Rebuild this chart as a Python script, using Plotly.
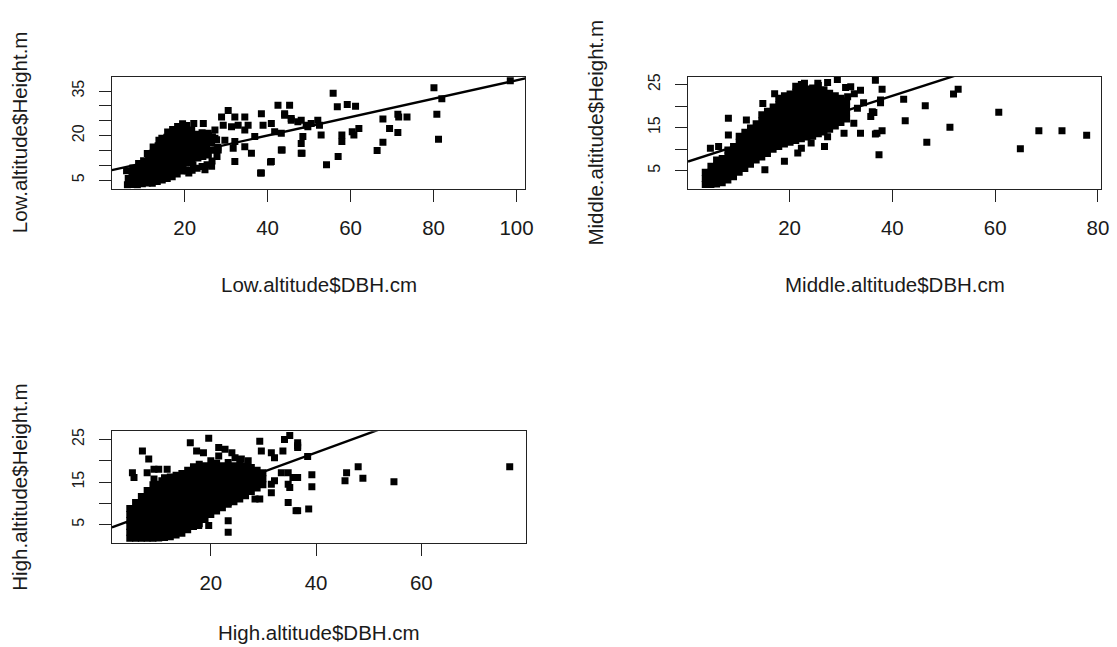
import plotly.graph_objects as go

# ---------------- data ----------------
low_obs = [
    (6.2,3.5),(6.4,5.6),(6.0,8.2),
    (7.4,3.6),(7.6,5.4),(7.3,7.5),(7.5,9.1),
    (8.6,3.5),(8.8,5.2),(8.5,7.1),(8.7,9.0),(8.9,10.6),
    (9.8,3.8),(10.0,5.9),(9.7,7.8),(9.9,9.8),(10.1,11.6),
    (11.0,4.1),(11.2,6.0),(10.9,8.1),(11.1,10.0),(11.3,12.1),(11.0,14.0),
    (12.2,4.0),(12.4,6.1),(12.1,8.0),(12.3,10.2),(12.5,12.0),(12.2,14.1),(12.4,16.2),
    (13.4,4.6),(13.6,6.5),(13.3,8.6),(13.5,10.5),(13.7,12.6),(13.4,14.5),(13.6,16.6),(13.8,18.5),
    (14.6,5.1),(14.8,7.0),(14.5,9.1),(14.7,11.0),(14.9,13.1),(14.6,15.0),(14.8,17.1),(14.5,19.1),
    (15.8,5.6),(16.0,7.5),(15.7,9.6),(15.9,11.5),(16.1,13.6),(15.8,15.5),(16.0,17.6),(15.7,19.5),(15.9,21.2),
    (17.0,6.2),(17.2,8.0),(16.9,10.1),(17.1,12.0),(17.3,14.1),(17.0,16.0),(17.2,18.1),(16.9,20.0),(17.1,22.1),
    (18.2,7.1),(18.4,9.0),(18.1,11.1),(18.3,13.0),(18.5,15.1),(18.2,17.0),(18.4,19.1),(18.1,21.0),(18.3,23.1),
    (19.4,8.1),(19.6,10.0),(19.3,12.1),(19.5,14.0),(19.7,16.1),(19.4,18.0),(19.6,20.1),(19.3,22.0),(19.5,24.0),
    (20.6,8.2),(20.8,11.0),(20.5,13.1),(20.7,15.0),(20.9,17.1),(20.6,19.0),(20.8,21.1),(20.5,23.4),
    (21.8,8.4),(22.0,10.2),(21.7,12.1),(21.9,14.0),(22.1,16.1),(21.8,18.0),(22.0,20.1),(21.7,21.9),
    (23.0,9.0),(23.2,12.5),(22.9,14.6),(23.1,16.5),(23.3,18.6),(23.0,20.5),
    (24.2,9.6),(24.4,13.0),(24.1,15.1),(24.3,17.0),(24.5,19.1),(24.2,21.0),
    (25.4,10.2),(25.6,14.0),(25.3,16.1),(25.5,18.0),(25.7,20.1),
    (26.6,11.5),(26.8,15.1),(26.5,17.5),(26.7,19.6),
    (27.8,13.0),(28.0,16.1),(27.7,18.6),
    (22.2,24.1),(24.5,24.1),(25.7,20.8),(27.3,21.9),(28.9,26.3),(30.5,28.5),(32.1,26.3),
    (29.3,23.5),(31.3,23.0),(32.9,23.5),(34.5,26.3),(35.3,23.5),(34.5,21.9),(38.5,27.4),
    (38.9,23.5),(40.9,24.1),(42.5,30.2),(45.3,30.2),(44.1,26.9),(45.7,25.2),(48.1,25.2),
    (49.7,23.0),(36.9,19.7),(36.1,14.1),(32.1,11.3),(31.7,15.8),(34.5,16.3),(40.9,11.3),
    (38.5,7.4),(43.3,15.2),(48.1,17.4),(48.1,14.1),(41.7,21.3),(43.3,20.8),(29.7,18.5),
    (32.1,18.0),(28.1,15.2),(25.7,13.5),(26.5,9.7),(24.9,8.5),(21.0,7.4),(20.2,8.5),
    (23.3,15.2),(25.0,17.4),(27.3,19.1),
    (55.8,34.3),(80.1,36.1),(98.5,38.5),(82.0,32.4),(80.8,27.2),(81.2,18.8),(56.8,29.7),
    (59.2,30.5),(61.2,29.9),(47.3,24.7),(49.3,23.5),(50.5,24.1),(67.8,25.6),(71.4,27.2),
    (71.6,26.3),(73.6,26.3),(69.4,22.4),(71.4,21.1),(67.8,17.8),(66.4,15.0),(60.4,21.3),
    (62.0,22.4),(60.8,20.2),(57.9,20.2),(57.9,18.0),(57.0,13.0),(54.2,10.2),(52.5,23.5),
    (52.9,20.2),(52.1,25.2),(48.5,19.7),(48.3,14.1),(43.5,15.2),(40.7,11.1),(38.3,7.4),
    (44.1,27.4),(45.7,25.8),
]

mid_obs = [
    (3.6,1.8),(3.6,3.2),(3.6,4.6),
    (4.7,1.8),(4.7,3.2),(4.7,4.6),(4.7,6.0),
    (5.8,1.9),(5.8,3.3),(5.8,4.7),(5.8,6.1),(5.8,7.5),
    (6.9,2.2),(6.9,3.6),(6.9,5.0),(6.9,6.4),(6.9,7.8),
    (8.0,2.8),(8.0,4.2),(8.0,5.6),(8.0,7.0),(8.0,8.4),(8.0,9.8),
    (9.1,3.6),(9.1,5.0),(9.1,6.4),(9.1,7.8),(9.1,9.2),(9.1,10.6),
    (10.2,4.6),(10.2,6.0),(10.2,7.4),(10.2,8.8),(10.2,10.2),(10.2,11.6),(10.2,13.0),
    (11.3,5.5),(11.3,6.9),(11.3,8.3),(11.3,9.7),(11.3,11.1),(11.3,12.5),(11.3,13.9),
    (12.4,6.5),(12.4,7.9),(12.4,9.3),(12.4,10.7),(12.4,12.1),(12.4,13.5),(12.4,14.9),
    (13.5,7.5),(13.5,8.9),(13.5,10.3),(13.5,11.7),(13.5,13.1),(13.5,14.5),(13.5,15.9),
    (14.6,8.2),(14.6,9.6),(14.6,11.0),(14.6,12.4),(14.6,13.8),(14.6,15.2),(14.6,16.6),(14.6,18.0),
    (15.7,9.0),(15.7,10.4),(15.7,11.8),(15.7,13.2),(15.7,14.6),(15.7,16.0),(15.7,17.4),(15.7,18.8),
    (16.8,10.0),(16.8,11.4),(16.8,12.8),(16.8,14.2),(16.8,15.6),(16.8,17.0),(16.8,18.4),(16.8,19.8),
    (17.9,10.6),(17.9,12.0),(17.9,13.4),(17.9,14.8),(17.9,16.2),(17.9,17.6),(17.9,19.0),(17.9,20.4),(17.9,21.8),
    (19.0,11.2),(19.0,12.6),(19.0,14.0),(19.0,15.4),(19.0,16.8),(19.0,18.2),(19.0,19.6),(19.0,21.0),(19.0,22.4),
    (20.1,11.6),(20.1,13.0),(20.1,14.4),(20.1,15.8),(20.1,17.2),(20.1,18.6),(20.1,20.0),(20.1,21.4),(20.1,22.8),
    (21.2,12.0),(21.2,13.4),(21.2,14.8),(21.2,16.2),(21.2,17.6),(21.2,19.0),(21.2,20.4),(21.2,21.8),(21.2,23.2),(21.2,24.6),
    (22.3,12.4),(22.3,13.8),(22.3,15.2),(22.3,16.6),(22.3,18.0),(22.3,19.4),(22.3,20.8),(22.3,22.2),(22.3,23.6),(22.3,25.0),
    (23.4,12.8),(23.4,14.2),(23.4,15.6),(23.4,17.0),(23.4,18.4),(23.4,19.8),(23.4,21.2),(23.4,22.6),(23.4,24.0),
    (24.5,13.0),(24.5,14.4),(24.5,15.8),(24.5,17.2),(24.5,18.6),(24.5,20.0),(24.5,21.4),(24.5,22.8),(24.5,24.2),
    (25.6,13.6),(25.6,15.0),(25.6,16.4),(25.6,17.8),(25.6,19.2),(25.6,20.6),(25.6,22.0),(25.6,23.4),(25.6,24.8),
    (26.7,14.0),(26.7,15.4),(26.7,16.8),(26.7,18.2),(26.7,19.6),(26.7,21.0),(26.7,22.4),(26.7,23.8),
    (27.8,14.6),(27.8,16.0),(27.8,17.4),(27.8,18.8),(27.8,20.2),(27.8,21.6),(27.8,23.0),
    (28.9,15.4),(28.9,16.8),(28.9,18.2),(28.9,19.6),(28.9,21.0),(28.9,22.4),
    (30.0,16.2),(30.0,17.6),(30.0,19.0),(30.0,20.4),(30.0,21.8),
    (31.1,17.0),(31.1,18.4),(31.1,19.8),(31.1,21.2),
    (4.6,10.2),(6.2,10.6),(8.1,17.2),(8.1,13.3),(11.6,16.8),(14.8,20.6),(17.1,22.9),
    (22.9,25.3),(25.5,25.3),(27.4,25.5),(29.3,26.2),(31.9,24.5),(33.8,23.7),(31.3,22.2),
    (36.7,26.0),(37.7,21.4),(15.2,5.2),(12.6,8.3),(19.0,7.2),(21.6,9.1),(22.3,10.2),
    (24.2,11.4),(26.8,10.6),(27.4,12.9),(30.6,13.7),(33.8,13.7),(32.5,16.0),(35.8,17.6),
    (36.1,18.7),(37.0,13.7),(37.4,8.7),(38.0,23.9),(37.7,20.8),(36.4,18.5),(36.7,13.5),
    (38.0,14.3),(42.2,21.6),(46.4,20.1),(42.5,16.6),(46.7,11.6),(51.9,22.8),(52.8,23.9),
    (51.2,15.1),(60.7,18.6),(64.9,10.1),(68.5,14.3),(73.0,14.3),(77.8,13.2),(9.4,5.2),
    (32.6,22.9),(33.2,19.5),(34.4,20.8),(30.9,24.3),
]

high_obs = [
    (4.6,1.8),(4.6,3.2),(4.6,4.6),(4.6,6.0),(4.6,7.4),(4.6,8.8),
    (5.7,1.8),(5.7,3.2),(5.7,4.6),(5.7,6.0),(5.7,7.4),(5.7,8.8),(5.7,10.2),
    (6.8,1.8),(6.8,3.2),(6.8,4.6),(6.8,6.0),(6.8,7.4),(6.8,8.8),(6.8,10.2),(6.8,11.6),
    (7.9,1.8),(7.9,3.2),(7.9,4.6),(7.9,6.0),(7.9,7.4),(7.9,8.8),(7.9,10.2),(7.9,11.6),(7.9,13.0),
    (9.0,1.8),(9.0,3.2),(9.0,4.6),(9.0,6.0),(9.0,7.4),(9.0,8.8),(9.0,10.2),(9.0,11.6),(9.0,13.0),(9.0,14.4),
    (10.1,1.9),(10.1,3.3),(10.1,4.7),(10.1,6.1),(10.1,7.5),(10.1,8.9),(10.1,10.3),(10.1,11.7),(10.1,13.1),(10.1,14.5),
    (11.2,2.0),(11.2,3.4),(11.2,4.8),(11.2,6.2),(11.2,7.6),(11.2,9.0),(11.2,10.4),(11.2,11.8),(11.2,13.2),(11.2,14.6),(11.2,16.0),
    (12.3,2.2),(12.3,3.6),(12.3,5.0),(12.3,6.4),(12.3,7.8),(12.3,9.2),(12.3,10.6),(12.3,12.0),(12.3,13.4),(12.3,14.8),(12.3,16.2),
    (13.4,2.6),(13.4,4.0),(13.4,5.4),(13.4,6.8),(13.4,8.2),(13.4,9.6),(13.4,11.0),(13.4,12.4),(13.4,13.8),(13.4,15.2),(13.4,16.6),
    (14.5,3.0),(14.5,4.4),(14.5,5.8),(14.5,7.2),(14.5,8.6),(14.5,10.0),(14.5,11.4),(14.5,12.8),(14.5,14.2),(14.5,15.6),(14.5,17.0),
    (15.6,3.8),(15.6,5.2),(15.6,6.6),(15.6,8.0),(15.6,9.4),(15.6,10.8),(15.6,12.2),(15.6,13.6),(15.6,15.0),(15.6,16.4),(15.6,17.8),
    (16.7,4.6),(16.7,6.0),(16.7,7.4),(16.7,8.8),(16.7,10.2),(16.7,11.6),(16.7,13.0),(16.7,14.4),(16.7,15.8),(16.7,17.2),(16.7,18.6),
    (17.8,5.2),(17.8,6.6),(17.8,8.0),(17.8,9.4),(17.8,10.8),(17.8,12.2),(17.8,13.6),(17.8,15.0),(17.8,16.4),(17.8,17.8),(17.8,19.2),
    (18.9,6.2),(18.9,7.6),(18.9,9.0),(18.9,10.4),(18.9,11.8),(18.9,13.2),(18.9,14.6),(18.9,16.0),(18.9,17.4),(18.9,18.8),
    (20.0,7.4),(20.0,8.8),(20.0,10.2),(20.0,11.6),(20.0,13.0),(20.0,14.4),(20.0,15.8),(20.0,17.2),(20.0,18.6),(20.0,20.0),
    (21.1,8.2),(21.1,9.6),(21.1,11.0),(21.1,12.4),(21.1,13.8),(21.1,15.2),(21.1,16.6),(21.1,18.0),(21.1,19.4),
    (22.2,9.0),(22.2,10.4),(22.2,11.8),(22.2,13.2),(22.2,14.6),(22.2,16.0),(22.2,17.4),(22.2,18.8),
    (23.3,9.8),(23.3,11.2),(23.3,12.6),(23.3,14.0),(23.3,15.4),(23.3,16.8),(23.3,18.2),(23.3,19.6),
    (24.4,10.4),(24.4,11.8),(24.4,13.2),(24.4,14.6),(24.4,16.0),(24.4,17.4),(24.4,18.8),
    (25.5,11.0),(25.5,12.4),(25.5,13.8),(25.5,15.2),(25.5,16.6),(25.5,18.0),(25.5,19.4),
    (26.6,11.8),(26.6,13.2),(26.6,14.6),(26.6,16.0),(26.6,17.4),(26.6,18.8),
    (27.7,12.8),(27.7,14.2),(27.7,15.6),(27.7,17.0),(27.7,18.4),
    (28.8,13.6),(28.8,15.0),(28.8,16.4),(28.8,17.8),
    (29.9,14.4),(29.9,15.8),(29.9,17.2),
    (7.0,22.3),(8.2,20.4),(5.1,17.2),(5.4,16.1),(7.9,17.2),(9.2,18.0),(10.1,18.0),
    (11.7,18.0),(9.2,15.7),(10.7,15.3),(16.1,24.2),(19.6,25.3),(17.3,22.3),(18.6,21.9),
    (21.5,23.1),(22.7,22.7),(24.0,21.9),(21.5,21.1),(24.6,20.7),(25.8,20.4),(27.1,20.0),
    (29.3,24.6),(29.6,22.3),(31.5,21.9),(32.1,20.7),(33.7,22.3),(34.0,25.0),(35.0,25.9),
    (36.5,24.2),(36.5,23.1),(33.4,17.2),(34.7,17.2),(35.6,16.1),(31.5,14.5),(32.1,15.3),
    (34.7,14.5),(35.0,13.7),(31.5,12.5),(28.4,11.0),(29.3,11.0),(34.7,10.2),(36.2,8.3),
    (23.3,5.9),(23.3,3.2),(25.2,11.8),(24.0,11.8),(23.3,10.2),(21.5,9.4),(17.7,4.8),
    (19.6,4.8),(36.5,23.5),(38.4,21.0),(36.5,16.1),(39.2,16.7),(39.2,13.9),(36.5,8.3),
    (38.6,8.7),(45.8,17.2),(45.5,15.3),(48.0,18.6),(48.9,15.9),(54.8,15.1),(76.8,18.6),
]

# fitted lines (intercept, slope)
low_fit = (7.64, 0.31)
mid_fit = (7.03, 0.384)
high_fit = (3.83, 0.452)

panels = [
    dict(obs=low_obs, fit=low_fit, xname="Low.altitude$DBH.cm", yname="Low.altitude$Height.m",
         xr=[2.46, 102.1], yr=[2.1, 39.9],
         xt=[20, 40, 60, 80, 100], yt=[5, 10, 15, 20, 25, 30, 35], ylab=["5", "", "", "20", "", "", "35"]),
    dict(obs=mid_obs, fit=mid_fit, xname="Middle.altitude$DBH.cm", yname="Middle.altitude$Height.m",
         xr=[0.25, 80.6], yr=[0.77, 26.8],
         xt=[20, 40, 60, 80], yt=[5, 10, 15, 20, 25], ylab=["5", "", "15", "", "25"]),
    dict(obs=high_obs, fit=high_fit, xname="High.altitude$DBH.cm", yname="High.altitude$Height.m",
         xr=[1.2, 79.8], yr=[0.72, 26.9],
         xt=[20, 40, 60], yt=[5, 10, 15, 20, 25], ylab=["5", "", "15", "", "25"]),
]

W, H = 1117, 647
boxes = [  # left, right, top, bottom in pixels
    (112.7, 529.0, 73.0, 186.0),
    (693.0, 1109.0, 73.3, 186.0),
    (112.7, 529.3, 430.0, 542.3),
]

FONT = "Liberation Sans, Arial, sans-serif"
TXT = "#1a1a1a"
TITLE_SIZE = 20.5
XTICK_SIZE = 20.5
YTICK_SIZE = 16

fig = go.Figure()
layout = dict(
    width=W, height=H, margin=dict(l=0, r=0, t=0, b=0),
    paper_bgcolor="white", plot_bgcolor="white", showlegend=False,
    font=dict(family=FONT, color=TXT, size=16),
)
annotations = []

for i, (p, b) in enumerate(zip(panels, boxes)):
    n = "" if i == 0 else str(i + 1)
    xs = [o[0] for o in p["obs"]]
    ys = [o[1] for o in p["obs"]]
    fig.add_trace(go.Scatter(
        x=xs, y=ys, mode="markers", xaxis="x" + n, yaxis="y" + n,
        marker=dict(symbol="square", size=7, color="black", line=dict(width=0)),
        hoverinfo="skip"))
    a, s = p["fit"]
    x0, x1 = p["xr"]
    fig.add_trace(go.Scatter(
        x=[x0, x1], y=[a + s * x0, a + s * x1], mode="lines",
        xaxis="x" + n, yaxis="y" + n, line=dict(color="black", width=2.4),
        cliponaxis=True, hoverinfo="skip"))
    l, r, t, btm = b
    axis_common = dict(showline=True, linecolor="#222", linewidth=1, mirror=True,
                       ticks="outside", ticklen=12, tickwidth=1, tickcolor="#222",
                       showgrid=False, zeroline=False, tickmode="array")
    layout["xaxis" + n] = dict(axis_common, domain=[l / W, r / W], range=p["xr"],
                               tickvals=p["xt"], anchor="y" + n, ticklabelstandoff=9,
                               tickfont=dict(family=FONT, size=XTICK_SIZE, color=TXT))
    layout["yaxis" + n] = dict(axis_common, domain=[1 - btm / H, 1 - t / H], range=p["yr"],
                               tickvals=p["yt"], ticktext=p["ylab"], anchor="x" + n,
                               tickangle=-90, ticklabelstandoff=9,
                               tickfont=dict(family=FONT, size=YTICK_SIZE, color=TXT))
    if i < 2:
        annotations.append(dict(text=p["xname"], xref="paper", yref="paper",
                                x=(l + r) / 2 / W, y=1 - (btm + 96) / H, showarrow=False,
                                xanchor="center", yanchor="middle",
                                font=dict(family=FONT, size=TITLE_SIZE, color=TXT)))
    else:
        annotations.append(dict(text=p["xname"], xref="paper", yref="paper",
                                x=(l + r) / 2 / W, y=0.002, showarrow=False,
                                xanchor="center", yanchor="bottom",
                                font=dict(family=FONT, size=TITLE_SIZE, color=TXT)))
    annotations.append(dict(text=p["yname"], xref="paper", yref="paper",
                            x=(l - 93) / W, y=1 - (t + btm) / 2 / H, showarrow=False,
                            textangle=-90, xanchor="center", yanchor="middle",
                            font=dict(family=FONT, size=TITLE_SIZE, color=TXT)))

layout["annotations"] = annotations
fig.update_layout(**layout)
fig.write_html("out.html")
